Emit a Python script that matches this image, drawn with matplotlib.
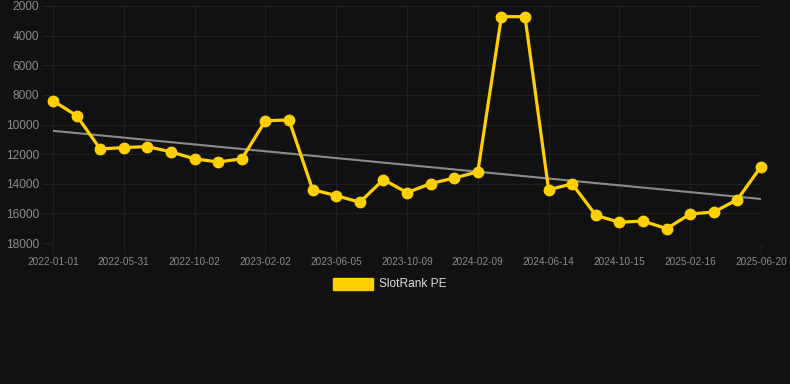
import numpy as np
import matplotlib.pyplot as plt
from matplotlib.patches import Rectangle

plt.rcParams['font.family'] = ['Liberation Sans', 'DejaVu Sans']

# SlotRank PE values (lower is better, axis is reversed)
rank = [8400, 9400, 11650, 11560, 11490, 11850, 12320, 12530, 12320, 9750,
        9690, 14400, 14800, 15250, 13720, 14600, 13990, 13610, 13200, 2720,
        2720, 14400, 14010, 16130, 16600, 16520, 17030, 16040, 15910, 15070,
        12840]
tick_labels = ['2022-01-01', '2022-05-31', '2022-10-02', '2023-02-02',
               '2023-06-05', '2023-10-09', '2024-02-09', '2024-06-14',
               '2024-10-15', '2025-02-16', '2025-06-20']
y_ticks = [2000, 4000, 6000, 8000, 10000, 12000, 14000, 16000, 18000]

bg = '#111111'
grid_c = '#202020'
yellow = '#ffd000'

x = np.arange(len(rank))

fig = plt.figure(figsize=(7.9, 3.84), dpi=100, facecolor=bg)
ax = fig.add_axes([53 / 790, 1 - 243 / 384, (761 - 53) / 790, (243 - 6) / 384])
ax.set_facecolor(bg)

# trend line
k, b = np.polyfit(x, rank, 1)
ax.plot(x, k * x + b, color='#8a8a8a', lw=1.5, zorder=2)

ax.plot(x, rank, color=yellow, lw=2.3, marker='o', markersize=7.5,
        zorder=3, clip_on=False)

ax.set_xlim(0, len(rank) - 1)
ax.set_ylim(18000, 2000)
ax.set_yticks(y_ticks)
ax.set_yticklabels([str(v) for v in y_ticks])
ax.set_xticks(x[::3])
ax.set_xticklabels(tick_labels)

ax.grid(True, color=grid_c, lw=0.8)
ax.tick_params(axis='y', colors=grid_c, labelcolor='#8c8c8c', labelsize=8.6,
               length=8, width=0.8, pad=2)
ax.tick_params(axis='x', colors=grid_c, labelcolor='#8c8c8c', labelsize=7.2,
               length=8, width=0.8, pad=2)
for s in ax.spines.values():
    s.set_visible(False)

# legend
fig.patches.append(Rectangle((333 / 790, 1 - 290 / 384), 40 / 790, 12 / 384,
                             transform=fig.transFigure, color=yellow))
fig.text(379 / 790, 1 - 284 / 384, 'SlotRank PE', color='#dddddd',
         fontsize=8.6, va='center', ha='left')

fig.savefig('out.png', dpi=100, facecolor=bg)
